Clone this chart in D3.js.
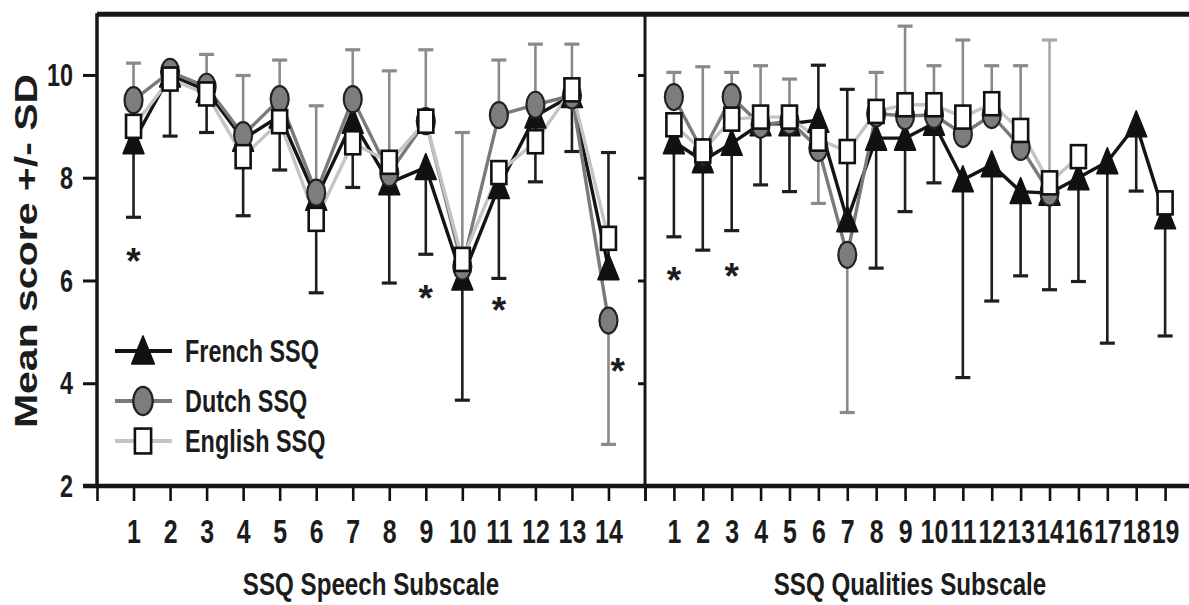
<!DOCTYPE html>
<html><head><meta charset="utf-8">
<script src="https://cdn.jsdelivr.net/npm/d3@7"></script>
<style>
body{margin:0;background:#fff}
svg{display:block}
text{font-family:"Liberation Sans",Arial,Helvetica,sans-serif;font-weight:bold;fill:#1c1c1c}
</style>
</head><body><svg id="c" width="1189" height="605"></svg>
<script>
// ---------- DATA ----------
const speechItems = ["1","2","3","4","5","6","7","8","9","10","11","12","13","14"];
const qualItems   = ["1","2","3","4","5","6","7","8","9","10","11","12","13","14","16","17","18","19"];
const yTicks = [2,4,6,8,10];

// Speech subscale
const frenchSpeech     = [8.70,10.00,9.70,8.75,9.20,7.60,9.10,7.90,8.20,6.05,7.83,9.20,9.60,6.25];
const frenchSpeechErr  = [7.23,8.81,8.88,7.26,8.15,5.76,7.81,5.95,6.51,3.67,6.04,7.92,8.51,8.49];
const dutchSpeech      = [9.51,10.06,9.77,8.83,9.53,7.71,9.53,8.09,9.10,6.27,9.22,9.42,9.60,5.22];
const dutchSpeechErr   = [10.23,null,10.40,9.99,10.29,9.40,10.49,10.08,10.49,8.88,10.29,10.60,10.60,2.81];
const englishSpeech    = [9.00,9.92,9.63,8.41,9.09,7.19,8.68,8.30,9.10,6.41,8.10,8.70,9.71,6.82];
const englishSpeechErr = [null,null,null,null,null,null,null,null,null,null,null,null,null,null];

// Qualities subscale
const frenchQual     = [8.70,8.33,8.67,9.05,9.05,9.12,7.18,8.77,8.77,9.06,7.96,8.25,7.73,7.70,8.00,8.31,9.03,7.24];
const frenchQualErr  = [6.85,6.59,6.97,7.86,7.73,10.19,9.72,6.24,7.34,7.90,4.11,5.60,6.09,5.82,5.98,4.78,7.74,4.92];
const dutchQual      = [9.57,8.50,9.57,9.03,9.10,8.58,6.50,9.25,9.20,9.22,8.85,9.22,8.60,7.71,null,null,null,null];
const dutchQualErr   = [10.05,10.16,10.05,10.18,9.92,7.50,3.43,10.05,10.95,10.18,10.68,10.18,10.18,null,null,null,null,null];
const englishQual    = [9.03,8.52,9.14,9.18,9.18,8.75,8.51,9.29,9.42,9.42,9.18,9.44,8.92,7.90,8.41,null,null,7.51];
const englishQualErr = [null,null,null,null,null,null,null,null,null,null,null,null,null,10.68,null,null,null,null];

// significance asterisks: [item position, value]
const speechStars = [[1,6.54],[9,5.82],[11,5.58],[14.25,4.39]];
const qualStars   = [[1,6.17],[3,6.24]];

const seriesNames = ["French SSQ","Dutch SSQ","English SSQ"];

// ---------- STYLE ----------
const SX = 0.755;
const col = {french:"#141414", dutch:"#7a7a7a", english:"#c4c4c4"};
const errCol = {french:"#1e1e1e", dutch:"#8a8a8a", english:"#a8a8a8"};

const svg = d3.select("#c");
const y  = d3.scaleLinear().domain([2,11.2]).range([486,13.3]);
const xL = d3.scaleLinear().domain([0,15]).range([97,645]);
const xR = d3.scaleLinear().domain([0,19]).range([645,1194]);

function stext(g, x, yy, str, size, anchor){
  return g.append("text")
    .attr("transform", `translate(${x},${yy}) scale(${SX},1)`)
    .attr("text-anchor", anchor || "middle")
    .style("font-size", size+"px")
    .text(str);
}

// marker shapes
function triangle(g, cx, cy, s){
  s = s || 1;
  g.append("path")
   .attr("d", `M${cx},${cy-14*s} L${cx+10.5*s},${cy+12*s} L${cx-10.5*s},${cy+12*s} Z`)
   .attr("fill", "#111").attr("stroke","#111").attr("stroke-width",1.5).attr("stroke-linejoin","round");
}
function circle(g, cx, cy, s){
  s = s || 1;
  g.append("ellipse").attr("cx",cx).attr("cy",cy).attr("rx",9*s).attr("ry",13*s)
   .attr("fill","#7d7d7d").attr("stroke","#222").attr("stroke-width",2.2);
}
function square(g, cx, cy, s){
  s = s || 1;
  g.append("rect").attr("x",cx-7.5*s).attr("y",cy-11.5*s).attr("width",15*s).attr("height",23*s)
   .attr("fill","#fff").attr("stroke","#111").attr("stroke-width",2.6);
}

function drawPanel(x, items, fr, frE, du, duE, en, enE, stars){
  const g = svg.append("g");
  const series = [
    {key:"french", vals:fr, err:frE, mark:triangle},
    {key:"dutch", vals:du, err:duE, mark:circle},
    {key:"english", vals:en, err:enE, mark:square}
  ];
  // error bars
  series.forEach(s=>{
    s.err.forEach((e,k)=>{
      const v = s.vals[k];
      if(e==null || v==null) return;
      const xi = x(k+1);
      g.append("line").attr("x1",xi).attr("x2",xi).attr("y1",y(v)).attr("y2",y(e))
        .attr("stroke",errCol[s.key]).attr("stroke-width",2.6);
      g.append("line").attr("x1",xi-7.5).attr("x2",xi+7.5).attr("y1",y(e)).attr("y2",y(e))
        .attr("stroke",errCol[s.key]).attr("stroke-width",3.2);
    });
  });
  // lines
  const line = d3.line().defined(d=>d.v!=null).x(d=>x(d.i)).y(d=>y(d.v));
  series.forEach(s=>{
    const data = s.vals.map((v,k)=>({i:k+1,v:v}));
    g.append("path").datum(data).attr("d",line).attr("fill","none")
      .attr("stroke",col[s.key]).attr("stroke-width",3.4).attr("stroke-linejoin","round");
  });
  // markers
  series.forEach(s=>{
    s.vals.forEach((v,k)=>{ if(v!=null) s.mark(g, x(k+1), y(v)); });
  });
  // asterisks
  stars.forEach(st=>{
    g.append("text").attr("x",x(st[0])).attr("y",y(st[1])+21)
      .attr("text-anchor","middle").style("font-size","37px").style("font-weight","bold").text("*");
  });
}

// ---------- AXES ----------
const axL = d3.axisBottom(xL).tickValues(d3.range(0,16)).tickSize(15).tickSizeOuter(0)
  .tickFormat(d=> (d>=1 && d<=speechItems.length) ? speechItems[d-1] : "");
const axR = d3.axisBottom(xR).tickValues(d3.range(0,19)).tickSize(15).tickSizeOuter(0)
  .tickFormat(d=> (d>=1 && d<=qualItems.length) ? qualItems[d-1] : "");

[axL, axR].forEach(ax=>{
  const g = svg.append("g").attr("transform",`translate(0,${y(2)})`).call(ax);
  g.select(".domain").remove();
  g.selectAll(".tick line").attr("stroke","#111").attr("stroke-width",2.6);
  g.selectAll(".tick text").attr("y",57).attr("dy",0).attr("x",0)
    .attr("transform",`scale(${SX},1)`)
    .style("font-size","33px").style("font-family",'"Liberation Sans",Arial,sans-serif')
    .style("font-weight","bold").attr("fill","#1c1c1c");
});

const ay = d3.axisLeft(y).tickValues(yTicks).tickSize(14).tickFormat("");
const gy = svg.append("g").attr("transform",`translate(${xL(0)},0)`).call(ay);
gy.select(".domain").remove();
gy.selectAll(".tick line").attr("stroke","#111").attr("stroke-width",3);
yTicks.forEach(t=>{
  svg.append("text").attr("transform",`translate(${xL(0)-24},${y(t)}) scale(${SX},1)`)
    .attr("text-anchor","end").attr("dy","0.36em").style("font-size","31px").text(String(t));
});
const ay2 = d3.axisLeft(y).tickValues(yTicks.slice(1)).tickSize(7).tickFormat("");
const gy2 = svg.append("g").attr("transform",`translate(${xL(15)},0)`).call(ay2);
gy2.select(".domain").remove();
gy2.selectAll(".tick line").attr("stroke","#111").attr("stroke-width",3);

// frame lines
svg.append("line").attr("x1",xL(0)).attr("x2",1189).attr("y1",y(11.2)+1).attr("y2",y(11.2)+1)
  .attr("stroke","#161616").attr("stroke-width",5);
svg.append("line").attr("x1",xL(0)).attr("x2",xL(0)).attr("y1",y(11.2)).attr("y2",y(2)+2)
  .attr("stroke","#161616").attr("stroke-width",3.5);
svg.append("line").attr("x1",xL(15)).attr("x2",xL(15)).attr("y1",y(11.2)).attr("y2",y(2))
  .attr("stroke","#161616").attr("stroke-width",3);
svg.append("line").attr("x1",xL(0)-14).attr("x2",1189).attr("y1",y(2)).attr("y2",y(2))
  .attr("stroke","#161616").attr("stroke-width",4.5);

// ---------- DATA MARKS ----------
drawPanel(xL, speechItems, frenchSpeech, frenchSpeechErr, dutchSpeech, dutchSpeechErr, englishSpeech, englishSpeechErr, speechStars);
drawPanel(xR, qualItems, frenchQual, frenchQualErr, dutchQual, dutchQualErr, englishQual, englishQualErr, qualStars);

// ---------- LEGEND ----------
const leg = svg.append("g");
const legY = [351, 401, 441];
const legKeys = ["french","dutch","english"];
const legMarks = [triangle, circle, square];
legKeys.forEach((k,i)=>{
  leg.append("line").attr("x1",115).attr("x2",172).attr("y1",legY[i]).attr("y2",legY[i])
    .attr("stroke",col[k]).attr("stroke-width",4);
  legMarks[i](leg, 143, legY[i], 1.08);
  stext(leg, 185, legY[i]+11, seriesNames[i], 31, "start");
});

// ---------- TITLES ----------
stext(svg, (xL(0)+xL(15))/2, 595, "SSQ Speech Subscale", 32);
stext(svg, 910, 595, "SSQ Qualities Subscale", 32);
svg.append("text")
  .attr("transform",`translate(37,251) scale(${SX},1) rotate(-90)`)
  .attr("text-anchor","middle").style("font-size","41px").text("Mean score +/- SD");
</script>
</body></html>
